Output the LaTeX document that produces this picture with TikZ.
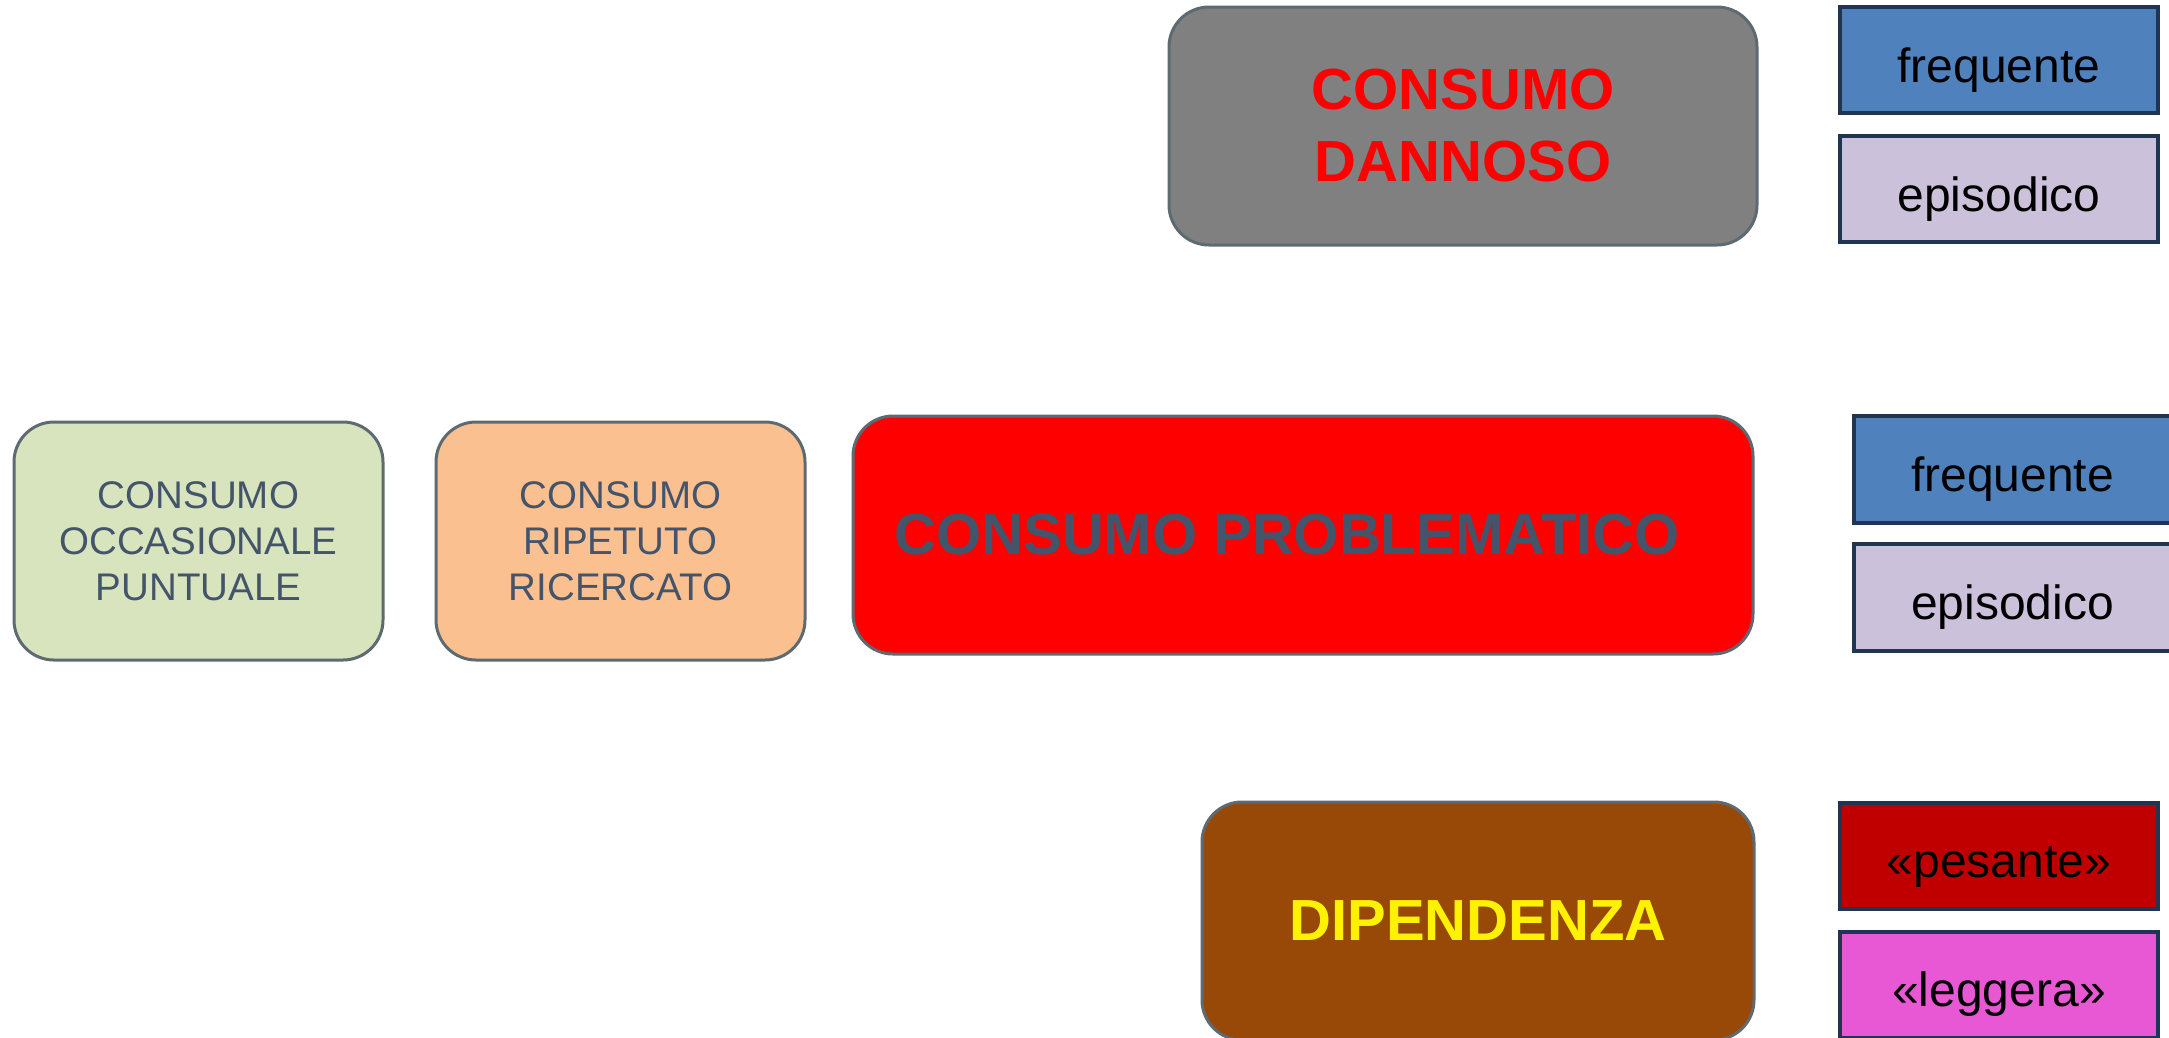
\documentclass[tikz,border=0pt]{standalone}
\usepackage{fontspec}
\setmainfont{Liberation Sans}
\definecolor{boxedge}{HTML}{5E6A72}
\definecolor{navy}{HTML}{1F3552}
\definecolor{slate}{HTML}{44546A}
\definecolor{cgreen}{HTML}{D7E4BD}
\definecolor{corange}{HTML}{FAC090}
\definecolor{cgray}{HTML}{808080}
\definecolor{cbrown}{HTML}{984807}
\definecolor{cblue}{HTML}{4F81BD}
\definecolor{clilac}{HTML}{CCC1DA}
\definecolor{cdarkred}{HTML}{C00000}
\definecolor{cpink}{HTML}{E858D5}
\tikzset{
  bigbox/.style={draw=boxedge, line width=3pt, rounded corners=40pt, minimum height=238pt, align=center, inner sep=0pt},
  smallbox/.style={draw=navy, line width=4pt, minimum width=318pt, minimum height=106pt, inner sep=0pt, font=\fontsize{48}{56}\selectfont, text=black, text height=44pt, text depth=0pt},
  plaintxt/.style={font=\fontsize{38.5}{46}\selectfont, text=slate},
  boldtxt/.style={font=\fontsize{58}{72}\selectfont\bfseries}
}
\begin{document}
\begin{tikzpicture}[x=1pt,y=-1pt]
\useasboundingbox (0,0) rectangle (2169,1037);
\clip (0,0) rectangle (2169,1037);
\fill[white] (0,0) rectangle (2169,1037);
\node[bigbox, plaintxt, fill=cgreen, minimum width=369pt] (occ) at (198.5,541) {CONSUMO\\OCCASIONALE\\PUNTUALE};
\node[bigbox, plaintxt, fill=corange, minimum width=369pt] (rip) at (620.5,541) {CONSUMO\\RIPETUTO\\RICERCATO};
\node[bigbox, boldtxt, fill=red, text=slate, minimum width=900pt] (prob) at (1303,535) {CONSUMO PROBLEMATICO\hspace*{32pt}};
\node[bigbox, boldtxt, fill=cgray, text=red, minimum width=588pt] (dann) at (1463,126) {CONSUMO\\DANNOSO};
\node[bigbox, boldtxt, fill=cbrown, text=yellow, minimum width=552pt] (dip) at (1478,921) {DIPENDENZA};
\node[smallbox, fill=cblue] (f1) at (1999,60) {frequente};
\node[smallbox, fill=clilac] (e1) at (1999,189) {episodico};
\node[smallbox, fill=cblue, minimum height=107pt] (f2) at (2012.5,469) {frequente};
\node[smallbox, fill=clilac, minimum height=107pt] (e2) at (2012.5,597.5) {episodico};
\node[smallbox, fill=cdarkred] (pes) at (1999,855.5) {«pesante»};
\node[smallbox, fill=cpink] (leg) at (1999,984.5) {«leggera»};
\end{tikzpicture}
\end{document}
